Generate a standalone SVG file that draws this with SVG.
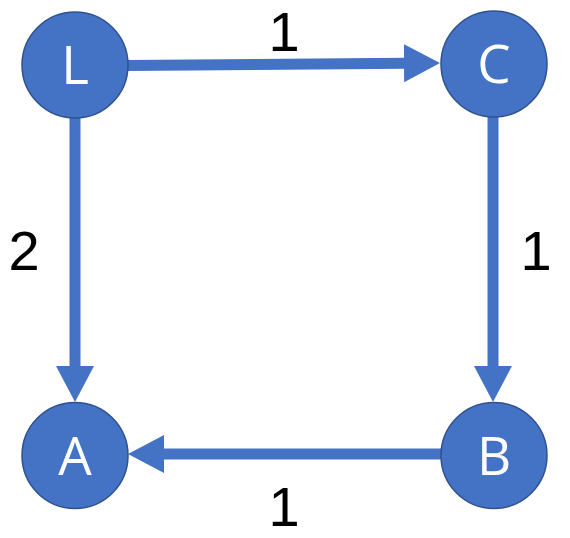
<svg xmlns="http://www.w3.org/2000/svg" width="570" height="538" viewBox="0 0 570 538">
<style>
.node{fill:#4472C4;stroke:#2F528F;stroke-width:1.5}
.nl{fill:#FFFFFF;font-family:"Open Sans","Liberation Sans",sans-serif;font-size:53px;text-anchor:middle}
.el{fill:#000000;font-family:"Liberation Sans","Open Sans",sans-serif;font-size:56px;text-anchor:middle}
.edge{stroke:#4472C4;stroke-width:11;fill:none;marker-end:url(#arr)}
</style>
<defs>
<marker id="arr" markerUnits="userSpaceOnUse" viewBox="0 0 36 38" markerWidth="36" markerHeight="38" refX="2" refY="19" orient="auto">
<path d="M0,0 L36,19 L0,38 Z" fill="#4472C4"/>
</marker>
</defs>
<rect width="570" height="538" fill="#FFFFFF"/>
<g id="connectors">
<line class="edge" x1="127" y1="65.5" x2="406" y2="63.2"/>
<line class="edge" x1="75" y1="118" x2="75" y2="368"/>
<line class="edge" x1="493" y1="117" x2="493" y2="368"/>
<line class="edge" x1="442" y1="454" x2="162" y2="454"/>
</g>
<g id="edge-labels">
<text class="el" x="284" y="51">1</text>
<text class="el" x="24" y="270">2</text>
<text class="el" x="536" y="270">1</text>
<text class="el" x="284" y="526">1</text>
</g>
<g id="node-L"><circle class="node" cx="75" cy="65" r="53"/><text class="nl" x="75" y="84">L</text></g>
<g id="node-C"><circle class="node" cx="494" cy="64" r="53"/><text class="nl" x="494" y="83">C</text></g>
<g id="node-A"><circle class="node" cx="75" cy="455.5" r="53"/><text class="nl" x="75" y="474.5">A</text></g>
<g id="node-B"><circle class="node" cx="494" cy="455.5" r="53"/><text class="nl" x="494" y="474.5">B</text></g>
</svg>
